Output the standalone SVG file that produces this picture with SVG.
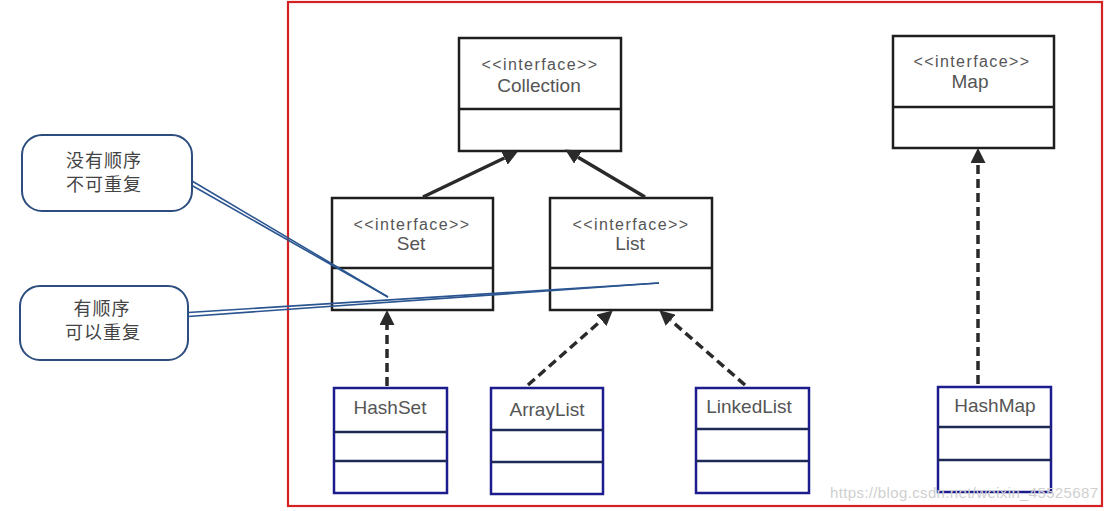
<svg xmlns="http://www.w3.org/2000/svg" width="1110" height="511" viewBox="0 0 1110 511">
<defs>
<style>
.frame{fill:none;stroke:#d42020;stroke-width:2.2}
.ibox{fill:#fff;stroke:#1e1e1e;stroke-width:2.5}
.idiv{stroke:#1e1e1e;stroke-width:2.5}
.cbox{fill:#fff;stroke:#1c1c8c;stroke-width:2.5}
.cdiv{stroke:#1c2a55;stroke-width:2.5}
.st{font-family:"Liberation Sans",Arial,sans-serif;font-size:16px;fill:#555;text-anchor:middle;letter-spacing:1.4px}
.nm{font-family:"Liberation Sans",Arial,sans-serif;font-size:19px;fill:#555;text-anchor:middle}
.note{fill:#fff;stroke:#2c4d7e;stroke-width:2}
.nt{font-family:"Noto Sans CJK SC","Liberation Sans",sans-serif;font-size:18px;fill:#444;text-anchor:middle;letter-spacing:1px}
.gen{stroke:#2a2a2a;stroke-width:3.5;fill:none}
.real{stroke:#2a2a2a;stroke-width:3.5;fill:none;stroke-dasharray:9 5}
.link{stroke:#2a5590;stroke-width:1.6;fill:none}
.wm{font-family:"Liberation Sans",Arial,sans-serif;font-size:15px;fill:#cfcfcf}
</style>
<marker id="tri" markerUnits="userSpaceOnUse" markerWidth="15" markerHeight="15" refX="0" refY="7.5" orient="auto" viewBox="0 0 15 15">
<path d="M0,0 L15,7.5 L0,15 z" fill="#2a2a2a"/>
</marker>
</defs>
<rect width="1110" height="511" fill="#fff"/>
<rect class="frame" x="288" y="2" width="814" height="504"/>

<g id="collection">
<rect class="ibox" x="459" y="38" width="162" height="113"/>
<line class="idiv" x1="459" y1="109" x2="621" y2="109"/>
<text class="st" x="540" y="70">&lt;&lt;interface&gt;&gt;</text>
<text class="nm" x="539" y="92">Collection</text>
</g>
<g id="set">
<rect class="ibox" x="332" y="198" width="161" height="112"/>
<line class="idiv" x1="332" y1="268" x2="493" y2="268"/>
<text class="st" x="412" y="230">&lt;&lt;interface&gt;&gt;</text>
<text class="nm" x="411" y="250">Set</text>
</g>
<g id="list">
<rect class="ibox" x="550" y="198" width="162" height="112"/>
<line class="idiv" x1="550" y1="268" x2="712" y2="268"/>
<text class="st" x="631" y="230">&lt;&lt;interface&gt;&gt;</text>
<text class="nm" x="630" y="250">List</text>
</g>
<g id="map">
<rect class="ibox" x="893" y="36" width="161" height="112"/>
<line class="idiv" x1="893" y1="107" x2="1054" y2="107"/>
<text class="st" x="972" y="67">&lt;&lt;interface&gt;&gt;</text>
<text class="nm" x="970" y="88">Map</text>
</g>
<g id="hashset">
<rect class="cbox" x="334" y="388" width="113" height="105"/>
<line class="cdiv" x1="334" y1="432" x2="447" y2="432"/>
<line class="cdiv" x1="334" y1="461" x2="447" y2="461"/>
<text class="nm" x="390" y="414">HashSet</text>
</g>
<g id="arraylist">
<rect class="cbox" x="491" y="388" width="112" height="106"/>
<line class="cdiv" x1="491" y1="430" x2="603" y2="430"/>
<line class="cdiv" x1="491" y1="462" x2="603" y2="462"/>
<text class="nm" x="547" y="416">ArrayList</text>
</g>
<g id="linkedlist">
<rect class="cbox" x="696" y="388" width="113" height="105"/>
<line class="cdiv" x1="696" y1="429" x2="809" y2="429"/>
<line class="cdiv" x1="696" y1="461" x2="809" y2="461"/>
<text class="nm" x="749" y="413">LinkedList</text>
</g>
<g id="hashmap">
<rect class="cbox" x="938" y="387" width="113" height="105"/>
<line class="cdiv" x1="938" y1="427" x2="1051" y2="427"/>
<line class="cdiv" x1="938" y1="460" x2="1051" y2="460"/>
<text class="nm" x="995" y="412">HashMap</text>
</g>

<g id="note-set">
<rect class="note" x="22" y="135" width="170" height="76" rx="20"/>
<text class="nt" x="104" y="167">没有顺序</text>
<text class="nt" x="104" y="191">不可重复</text>
</g>
<g id="note-list">
<rect class="note" x="20" y="286" width="168" height="74" rx="20"/>
<text class="nt" x="102" y="315">有顺序</text>
<text class="nt" x="103" y="339">可以重复</text>
</g>

<g id="connectors">
<line class="gen" x1="423" y1="197" x2="504.4" y2="158" marker-end="url(#tri)"/>
<line class="gen" x1="645" y1="197" x2="578" y2="157.2" marker-end="url(#tri)"/>
<line class="real" x1="387" y1="386" x2="387" y2="325" marker-end="url(#tri)"/>
<line class="real" x1="528" y1="385" x2="601.5" y2="320.3" marker-end="url(#tri)"/>
<line class="real" x1="745" y1="385" x2="670.6" y2="320.2" marker-end="url(#tri)"/>
<line class="real" x1="978" y1="384" x2="978" y2="163" marker-end="url(#tri)"/>
<line class="link" x1="192" y1="181" x2="388" y2="297"/>
<line class="link" x1="192" y1="185.5" x2="388" y2="297"/>
<line class="link" x1="188" y1="312.5" x2="659" y2="283"/>
<line class="link" x1="188" y1="316.5" x2="659" y2="283"/>
</g>

<text class="wm" x="830" y="498" textLength="268">https://blog.csdn.net/weixin_45525687</text>
</svg>
